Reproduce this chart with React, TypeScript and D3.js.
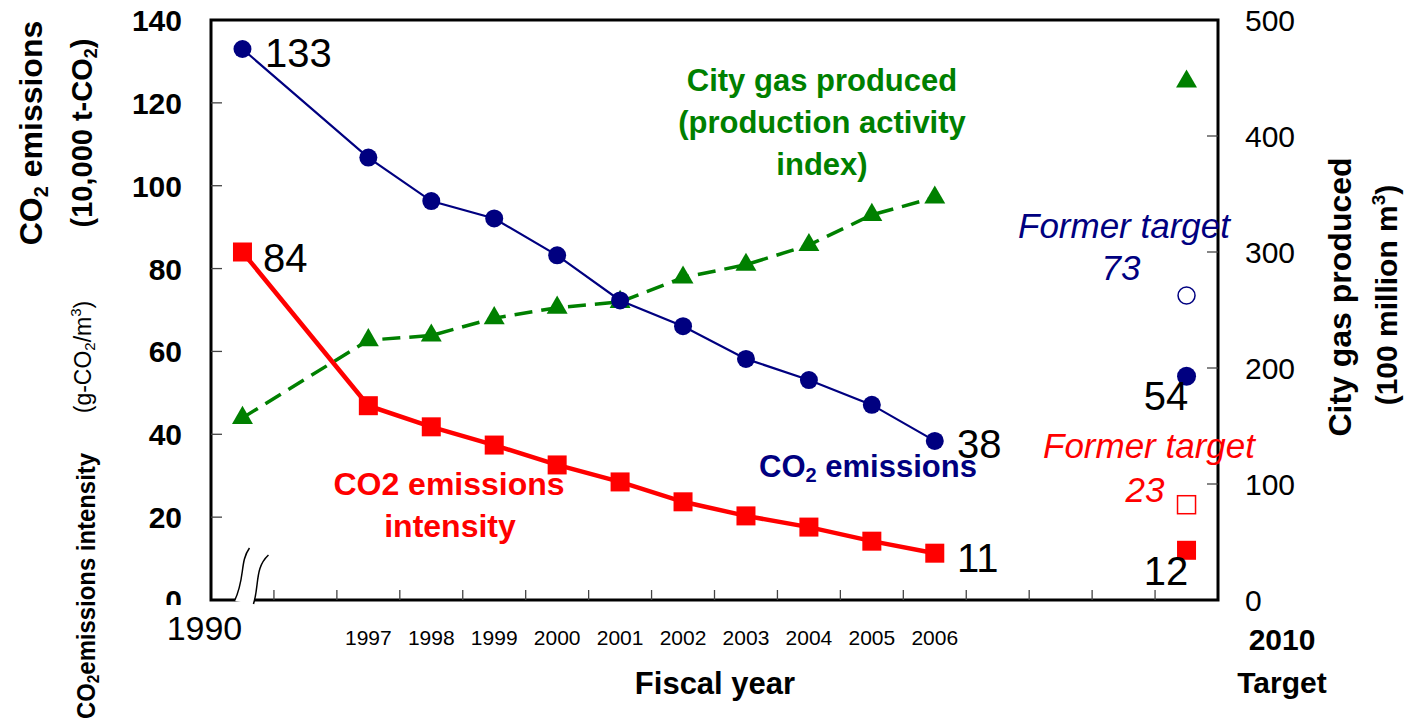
import React from "react";
import * as d3 from "d3";

const xCategories = ["1990", "gap", "1997", "1998", "1999", "2000", "2001", "2002", "2003", "2004", "2005", "2006", "g1", "g2", "g3", "Target"];
const years = ["1990", "1997", "1998", "1999", "2000", "2001", "2002", "2003", "2004", "2005", "2006"];
const co2Emissions = [133, 106.8, 96.3, 92.1, 83.2, 72.3, 66.1, 58.2, 53.1, 47.1, 38.4];
const co2Intensity = [84, 46.9, 41.8, 37.4, 32.6, 28.5, 23.7, 20.3, 17.6, 14.2, 11.3];
const cityGas = [157, 224, 228, 243, 252, 257, 278, 289, 306, 332, 347];
const co2Target = 54;
const co2FormerTarget = 73.5;
const intensityTarget = 12;
const intensityFormerTarget = 23;
const gasTarget = 447;
const leftTicks = [0, 20, 40, 60, 80, 100, 120, 140];
const rightTicks = [0, 100, 200, 300, 400, 500];

const FONT = "Liberation Sans, Arial, Helvetica, sans-serif";
const NAVY = "#000080";
const RED = "#ff0000";
const GREEN = "#008000";

export default function App() {
  const left = 211, right = 1218, top = 20, bottom = 600;
  const x = d3.scaleBand<string>().domain(xCategories).range([left, right]).padding(0);
  const bw = x.bandwidth();
  const cx = (c: string) => (x(c) as number) + bw / 2;
  const yL = d3.scaleLinear().domain([0, 140]).range([bottom, top]);
  const yR = d3.scaleLinear().domain([0, 500]).range([bottom, top]);

  const lineL = d3.line<[string, number]>().x(d => cx(d[0])).y(d => yL(d[1]));
  const lineR = d3.line<[string, number]>().x(d => cx(d[0])).y(d => yR(d[1]));
  const co2Pts: [string, number][] = years.map((y, i) => [y, co2Emissions[i]]);
  const intPts: [string, number][] = years.map((y, i) => [y, co2Intensity[i]]);
  const gasPts: [string, number][] = years.map((y, i) => [y, cityGas[i]]);

  const tri = d3.symbol().type(d3.symbolTriangle).size(190)() as string;
  const sq = 19;
  const tx = cx("Target");
  const bx = cx("1990");

  return (
    <svg width={1407} height={723} style={{ position: "absolute", left: 0, top: 0, background: "#fff" }} fontFamily={FONT}>
      <defs>
        <clipPath id="zclip"><rect x={100} y={0} width={120} height={605} /></clipPath>
      </defs>
      {/* frame */}
      <rect x={left} y={top} width={right - left} height={bottom - top} fill="none" stroke="#000" strokeWidth={3} />
      {/* left ticks */}
      {leftTicks.map(t => (
        <g key={"lt" + t}>
          {t > 0 && t < 140 && <line x1={left} x2={left + 11} y1={yL(t)} y2={yL(t)} stroke="#444" strokeWidth={1.3} />}
          <text x={182} y={yL(t) + 11} textAnchor="end" fontSize={30} fontWeight="bold" clipPath={t === 0 ? "url(#zclip)" : undefined}>{t}</text>
        </g>
      ))}
      {/* right ticks */}
      {rightTicks.map(t => (
        <g key={"rt" + t}>
          {t > 0 && t < 500 && <line x1={right - 11} x2={right} y1={yR(t)} y2={yR(t)} stroke="#444" strokeWidth={1.3} />}
          <text x={1245} y={yR(t) + 11} textAnchor="start" fontSize={30}>{t}</text>
        </g>
      ))}
      {/* x ticks at band boundaries */}
      {xCategories.slice(1).map(c => (
        <line key={"xt" + c} x1={x(c) as number} x2={x(c) as number} y1={bottom} y2={bottom - 10} stroke="#444" strokeWidth={1.3} />
      ))}
      {/* x labels */}
      {years.map(y => y === "1990" ? (
        <text key={"xl" + y} x={cx(y) - 38} y={640} textAnchor="middle" fontSize={34}>{y}</text>
      ) : (
        <text key={"xl" + y} x={cx(y)} y={645} textAnchor="middle" fontSize={21}>{y}</text>
      ))}
      <text x={1282} y={650} textAnchor="middle" fontSize={30} fontWeight="bold">2010</text>
      <text x={1282} y={693} textAnchor="middle" fontSize={30} fontWeight="bold">Target</text>
      <text x={715} y={694} textAnchor="middle" fontSize={31} fontWeight="bold">Fiscal year</text>

      {/* axis break */}
      <path d={`M ${bx + 7} 548 C ${bx - 3} 562, ${bx + 3} 578, ${bx - 8} 601 L ${bx + 11} 604 C ${bx + 17} 585, ${bx + 12} 568, ${bx + 26} 555 Z`} fill="#fff" stroke="none" />
      <path d={`M ${bx + 7} 548 C ${bx - 3} 562, ${bx + 3} 578, ${bx - 8} 601`} fill="none" stroke="#000" strokeWidth={1.5} />
      <path d={`M ${bx + 26} 555 C ${bx + 12} 568, ${bx + 17} 585, ${bx + 11} 604`} fill="none" stroke="#000" strokeWidth={1.5} />

      {/* left axis titles */}
      <text transform="translate(42,133) rotate(-90)" textAnchor="middle" fontSize={32} fontWeight="bold">CO<tspan fontSize={20} dy={6}>2</tspan><tspan dy={-6}> emissions</tspan></text>
      <text transform="translate(92,133) rotate(-90)" textAnchor="middle" fontSize={29} fontWeight="bold">(10,000 t-CO<tspan fontSize={18} dy={5}>2</tspan><tspan dy={-5}>)</tspan></text>
      <text transform="translate(91,357) rotate(-90)" textAnchor="middle" fontSize={23}>(g-CO<tspan fontSize={15} dy={4}>2</tspan><tspan dy={-4}>/m</tspan><tspan fontSize={15} dy={-10}>3</tspan><tspan dy={10}>)</tspan></text>
      <text transform="translate(95,586) rotate(-90)" textAnchor="middle" fontSize={25} fontWeight="bold" textLength={266} lengthAdjust="spacingAndGlyphs">CO<tspan fontSize={16} dy={4}>2</tspan><tspan dy={-4}>emissions intensity</tspan></text>
      {/* right axis titles */}
      <text transform="translate(1351,297) rotate(-90)" textAnchor="middle" fontSize={32} fontWeight="bold">City gas produced</text>
      <text transform="translate(1397,295) rotate(-90)" textAnchor="middle" fontSize={30} fontWeight="bold">(100 million m<tspan fontSize={19} dy={-12}>3</tspan><tspan dy={12}>)</tspan></text>

      {/* city gas dashed line */}
      <path d={lineR(gasPts) as string} fill="none" stroke={GREEN} strokeWidth={3.5} strokeDasharray="18 9" />
      {gasPts.map(d => <path key={"g" + d[0]} d={tri} transform={`translate(${cx(d[0])},${yR(d[1])})`} fill={GREEN} />)}
      <path d={tri} transform={`translate(${tx},${yR(gasTarget)})`} fill={GREEN} />

      {/* intensity line */}
      <path d={lineL(intPts) as string} fill="none" stroke={RED} strokeWidth={4.5} />
      {intPts.map(d => <rect key={"r" + d[0]} x={cx(d[0]) - sq / 2} y={yL(d[1]) - sq / 2} width={sq} height={sq} fill={RED} />)}
      <rect x={tx - sq / 2} y={yL(intensityTarget) - sq / 2} width={sq} height={sq} fill={RED} />
      <rect x={tx - 9} y={yL(intensityFormerTarget) - 9} width={18} height={18} fill="#fff" stroke={RED} strokeWidth={1.5} />

      {/* co2 line */}
      <path d={lineL(co2Pts) as string} fill="none" stroke={NAVY} strokeWidth={2.2} />
      {co2Pts.map(d => <circle key={"c" + d[0]} cx={cx(d[0])} cy={yL(d[1])} r={9} fill={NAVY} />)}
      <circle cx={tx} cy={yL(co2Target)} r={9.5} fill={NAVY} />
      <circle cx={tx} cy={yL(co2FormerTarget)} r={8.5} fill="#fff" stroke={NAVY} strokeWidth={1.5} />

      {/* value labels */}
      <text x={265} y={67} fontSize={40}>133</text>
      <text x={263} y={272} fontSize={40}>84</text>
      <text x={957} y={458} fontSize={40}>38</text>
      <text x={957} y={572} fontSize={40}>11</text>
      <text x={1166} y={410} fontSize={40} textAnchor="middle">54</text>
      <text x={1166} y={585} fontSize={40} textAnchor="middle">12</text>

      {/* series annotations */}
      <text x={822} y={91} textAnchor="middle" fontSize={31} fontWeight="bold" fill={GREEN}>City gas produced</text>
      <text x={822} y={133} textAnchor="middle" fontSize={31} fontWeight="bold" fill={GREEN}>(production activity</text>
      <text x={822} y={175} textAnchor="middle" fontSize={31} fontWeight="bold" fill={GREEN}>index)</text>
      <text x={868} y={477} textAnchor="middle" fontSize={31} fontWeight="bold" fill={NAVY}>CO<tspan fontSize={20} dy={5}>2</tspan><tspan dy={-5}> emissions</tspan></text>
      <text x={449} y={495} textAnchor="middle" fontSize={32} fontWeight="bold" fill={RED}>CO2 emissions</text>
      <text x={450} y={537} textAnchor="middle" fontSize={32} fontWeight="bold" fill={RED}>intensity</text>

      <text x={1230} y={238} textAnchor="end" fontSize={35} fontStyle="italic" fill={NAVY}>Former target</text>
      <text x={1121} y={280} textAnchor="middle" fontSize={35} fontStyle="italic" fill={NAVY}>73</text>
      <text x={1255} y={458} textAnchor="end" fontSize={35} fontStyle="italic" fill={RED}>Former target</text>
      <text x={1145} y={502} textAnchor="middle" fontSize={35} fontStyle="italic" fill={RED}>23</text>
    </svg>
  );
}
